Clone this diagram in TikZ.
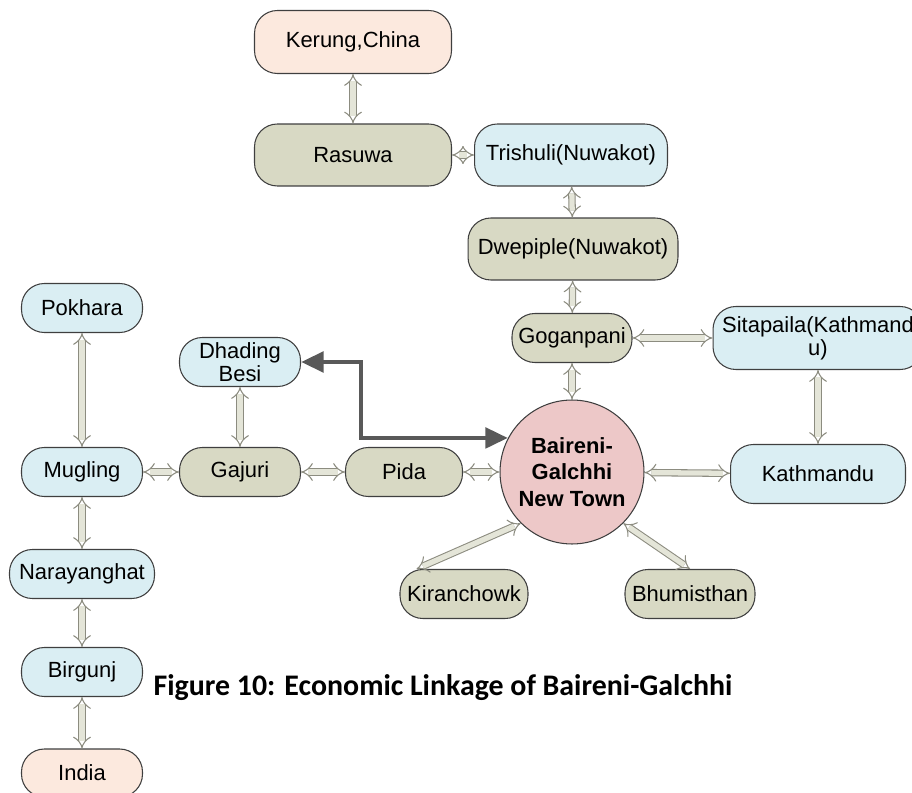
\documentclass[tikz,border=0pt]{standalone}
\usepackage{fontspec}
\setmainfont{Liberation Sans}
\newfontfamily\captionfont{Carlito}
\usepackage{tikz}
\usetikzlibrary{arrows,arrows.meta,positioning,calc}

\definecolor{nodeblue}{HTML}{DAEEF3}
\definecolor{nodeolive}{HTML}{D8D9C4}
\definecolor{nodepeach}{HTML}{FCE9DE}
\definecolor{nodepink}{HTML}{EDC8C8}
\definecolor{linegray}{HTML}{3F3F3F}
\definecolor{linkfill}{HTML}{E4E5D8}
\definecolor{linkdraw}{HTML}{8C8C80}
\definecolor{bigarrow}{HTML}{595959}

\tikzset{
    town/.style={draw=linegray, line width=0.6pt, rounded corners=13pt, align=center,
        minimum height=0.98cm, minimum width=2.42cm, font=\fontsize{12.5}{13}\selectfont},
    bluetown/.style={town, fill=nodeblue},
    olivetown/.style={town, fill=nodeolive},
    peachtown/.style={town, fill=nodepeach},
    link/.style={draw=linkdraw, line width=0.6pt, double=linkfill, double distance=3pt,
        {Implies}-{Implies}},
    mainlink/.style={draw=bigarrow, line width=2.8pt,
        {Triangle[length=0.45cm,width=0.4cm]}-{Triangle[length=0.45cm,width=0.4cm]}}
}

\begin{document}
\begin{tikzpicture}[x=0.02cm,y=-0.02cm]
        \useasboundingbox (0,0) rectangle (912,793);

        % centre town
        \node[circle, draw=linegray, line width=0.6pt, fill=nodepink, minimum size=2.88cm, align=center,
            font=\fontsize{12.5}{15}\selectfont\bfseries] (baireni) at (572,472) {Baireni-\\Galchhi\\New Town};

        % northern route
        \node[peachtown, minimum width=3.94cm, minimum height=1.26cm] (kerung) at (353,42) {Kerung,China};
        \node[olivetown, minimum width=3.94cm, minimum height=1.24cm] (rasuwa) at (353,155) {Rasuwa};
        \node[bluetown, minimum width=3.86cm, minimum height=1.24cm] (trishuli) at (571,155) {Trishuli(Nuwakot)};
        \node[olivetown, minimum width=4.2cm, minimum height=1.24cm] (dwepiple) at (573,249) {Dwepiple(Nuwakot)};
        \node[olivetown, minimum width=2.4cm] (goganpani) at (572,338) {Goganpani};

        % eastern route
        \node[bluetown, minimum width=4.2cm, minimum height=1.26cm, inner sep=1pt] (sitapaila) at (818,338) {Sitapaila(Kathmand\\u)};
        \node[bluetown, minimum width=3.5cm, minimum height=1.18cm] (kathmandu) at (818,474) {Kathmandu};

        % western route
        \node[bluetown] (pokhara) at (82,308) {Pokhara};
        \node[bluetown, inner sep=1pt] (dhading) at (240,362) {Dhading\\Besi};
        \node[bluetown] (mugling) at (82,472) {Mugling};
        \node[olivetown] (gajuri) at (240,472) {Gajuri};
        \node[olivetown, minimum width=2.34cm] (pida) at (404,472) {Pida};

        % southern route
        \node[bluetown, minimum width=2.9cm] (narayanghat) at (82,574) {Narayanghat};
        \node[bluetown] (birgunj) at (82,672) {Birgunj};
        \node[peachtown, minimum height=0.96cm] (india) at (82,773) {India};

        % local places
        \node[olivetown, minimum width=2.56cm] (kiran) at (464,594) {Kiranchowk};
        \node[olivetown, minimum width=2.6cm] (bhumi) at (690,594) {Bhumisthan};

        % links north
        \draw[link] (kerung) -- (rasuwa);
        \draw[link] (rasuwa) -- (trishuli);
        \draw[link] (trishuli) -- (dwepiple);
        \draw[link] (dwepiple) -- (goganpani);
        \draw[link] (goganpani) -- (baireni);

        % links east
        \draw[link] (goganpani) -- (sitapaila);
        \draw[link] (sitapaila) -- (kathmandu);
        \draw[link] (baireni) -- (kathmandu);

        % links west
        \draw[link] (pida) -- (baireni);
        \draw[link] (gajuri) -- (pida);
        \draw[link] (mugling) -- (gajuri);
        \draw[link] (gajuri) -- (dhading);
        \draw[link] (pokhara) -- (mugling);

        % links south
        \draw[link] (mugling) -- (narayanghat);
        \draw[link] (narayanghat) -- (birgunj);
        \draw[link] (birgunj) -- (india);
        \draw[link] ([xshift=-0.95cm]kiran.north) -- (baireni.-135);
        \draw[link] (bhumi.north) -- (baireni.-45);

        % main link to Dhading Besi
        \draw[mainlink] (dhading.east) -- ++(60,0) |- (baireni.152);

        % ================== caption ==================
        \node[font=\captionfont\fontsize{17}{20}\selectfont\bfseries] (caption) at (443,688) {Figure 10: Economic Linkage of Baireni-Galchhi};
        % =============================================

    \end{tikzpicture}
\end{document}
